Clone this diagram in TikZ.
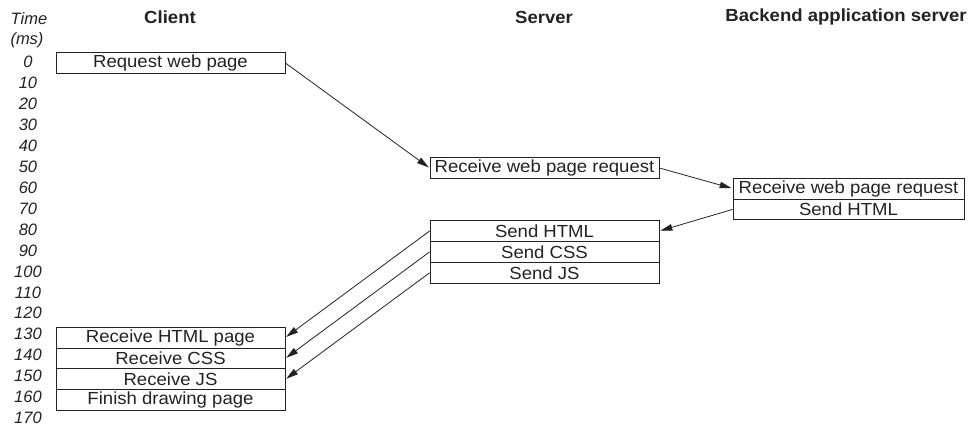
\documentclass[tikz,border=0pt]{standalone}
\usepackage{fontspec}
\setmainfont{Liberation Sans}[FakeStretch=1.06]
\newfontfamily\timefont{Liberation Sans}
\usetikzlibrary{arrows.meta}
\definecolor{ink}{HTML}{222222}
\begin{document}
\begin{tikzpicture}[x=1pt,y=-1pt,
  font=\fontsize{17.5}{19}\selectfont,
  box/.style={draw=ink, line width=0.8pt, minimum width=229pt, minimum height=20.94pt, inner sep=0pt, text=ink},
  tlab/.style={font=\timefont\itshape\fontsize{16.5}{18}\selectfont, text=ink},
  hdr/.style={font=\bfseries\fontsize{17.5}{19}\selectfont, text=ink},
  arr/.style={-{Triangle[length=12pt,width=6.5pt]}, line width=0.8pt, draw=ink, shorten >=1pt}]
\useasboundingbox (0,0) rectangle (973,425);
% headers
\node[hdr] (hclient) at (170,17) {Client};
\node[hdr] (hserver) at (544,17) {Server};
\node[hdr] (hbackend) at (846,17) {Backend application server};
\node[tlab] (ttime) at (29,19) {Time};
\node[tlab] (tms) at (27,40) {(ms)};
\foreach \t in {0,10,...,170}
  \node[tlab] (t\t) at (28,{62+2.094*\t}) {\t};
% client
\node[box] (req) at (170.5,63) {Request web page};
\node[box] (chtml) at (170.5,337.5) {Receive HTML page};
\node[box] (ccss) at (170.5,358.4) {Receive CSS};
\node[box] (cjs) at (170.5,379.3) {Receive JS};
\node[box] (cfin) at (170.5,400.2) {Finish drawing page};
% server
\node[box] (srecv) at (544.5,168) {Receive web page request};
\node[box] (shtml) at (544.5,231) {Send HTML};
\node[box] (scss) at (544.5,251.9) {Send CSS};
\node[box] (sjs) at (544.5,272.8) {Send JS};
% backend
\node[box, minimum width=231pt] (brecv) at (848.5,188.5) {Receive web page request};
\node[box, minimum width=231pt] (bsend) at (848.5,209.4) {Send HTML};
% arrows
\draw[arr] (req.east) -- (srecv.west);
\draw[arr] (srecv.east) -- (brecv.west);
\draw[arr] (bsend.west) -- (shtml.east);
\draw[arr] (shtml.west) -- (chtml.east);
\draw[arr] (scss.west) -- (ccss.east);
\draw[arr] (sjs.west) -- (cjs.east);
\end{tikzpicture}
\end{document}
